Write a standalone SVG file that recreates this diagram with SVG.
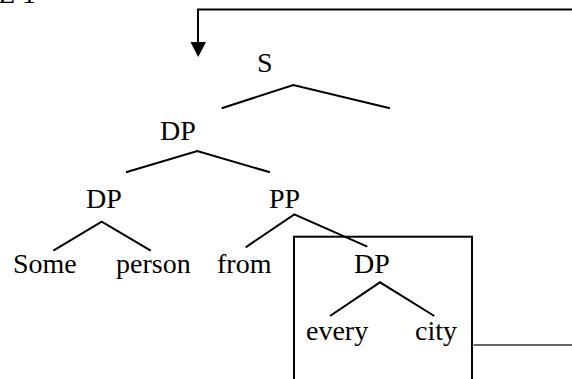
<svg xmlns="http://www.w3.org/2000/svg" width="572" height="379" viewBox="0 0 572 379">
<style>
text{font-family:"Liberation Serif","Times New Roman",Times,"DejaVu Serif",serif;font-size:28px;fill:#000}
.l{stroke:#000;stroke-width:2;fill:none}
</style>
<rect width="572" height="379" fill="#fff"/>
<text x="-2" y="3">E 1</text>
<g id="connectors">
<path class="l" d="M572,9.5 H198 V42"/>
<path d="M190.5,42 L206,42 L198.2,57 Z" fill="#000"/>
<path class="l" d="M221.7,108.3 L293.3,85 L390,108.3"/>
<path class="l" d="M126,172.3 L197.3,151 L270,172.3"/>
<path class="l" d="M53.3,250.7 L101.7,221.7 L150.7,250.7"/>
<path class="l" d="M245.7,247.3 L294.3,214.3 L367.3,246.7"/>
<path class="l" d="M330,316 L380,282.3 L434.3,316"/>
<path d="M473.5,345 H572" stroke="#333" stroke-width="1.5" fill="none"/>
</g>
<rect id="box" x="294" y="236.7" width="178" height="160" class="l"/>
<g id="S"><text x="257" y="72">S</text></g>
<g id="DP1"><text x="160" y="140">DP</text></g>
<g id="DP2"><text x="86" y="208">DP</text></g>
<g id="PP"><text x="269" y="208">PP</text></g>
<g id="Some"><text x="13" y="273">Some</text></g>
<g id="person"><text x="116" y="273">person</text></g>
<g id="from"><text x="217" y="273">from</text></g>
<g id="DP3"><text x="354" y="273">DP</text></g>
<g id="every"><text x="306" y="340">every</text></g>
<g id="city"><text x="415" y="340">city</text></g>
</svg>
